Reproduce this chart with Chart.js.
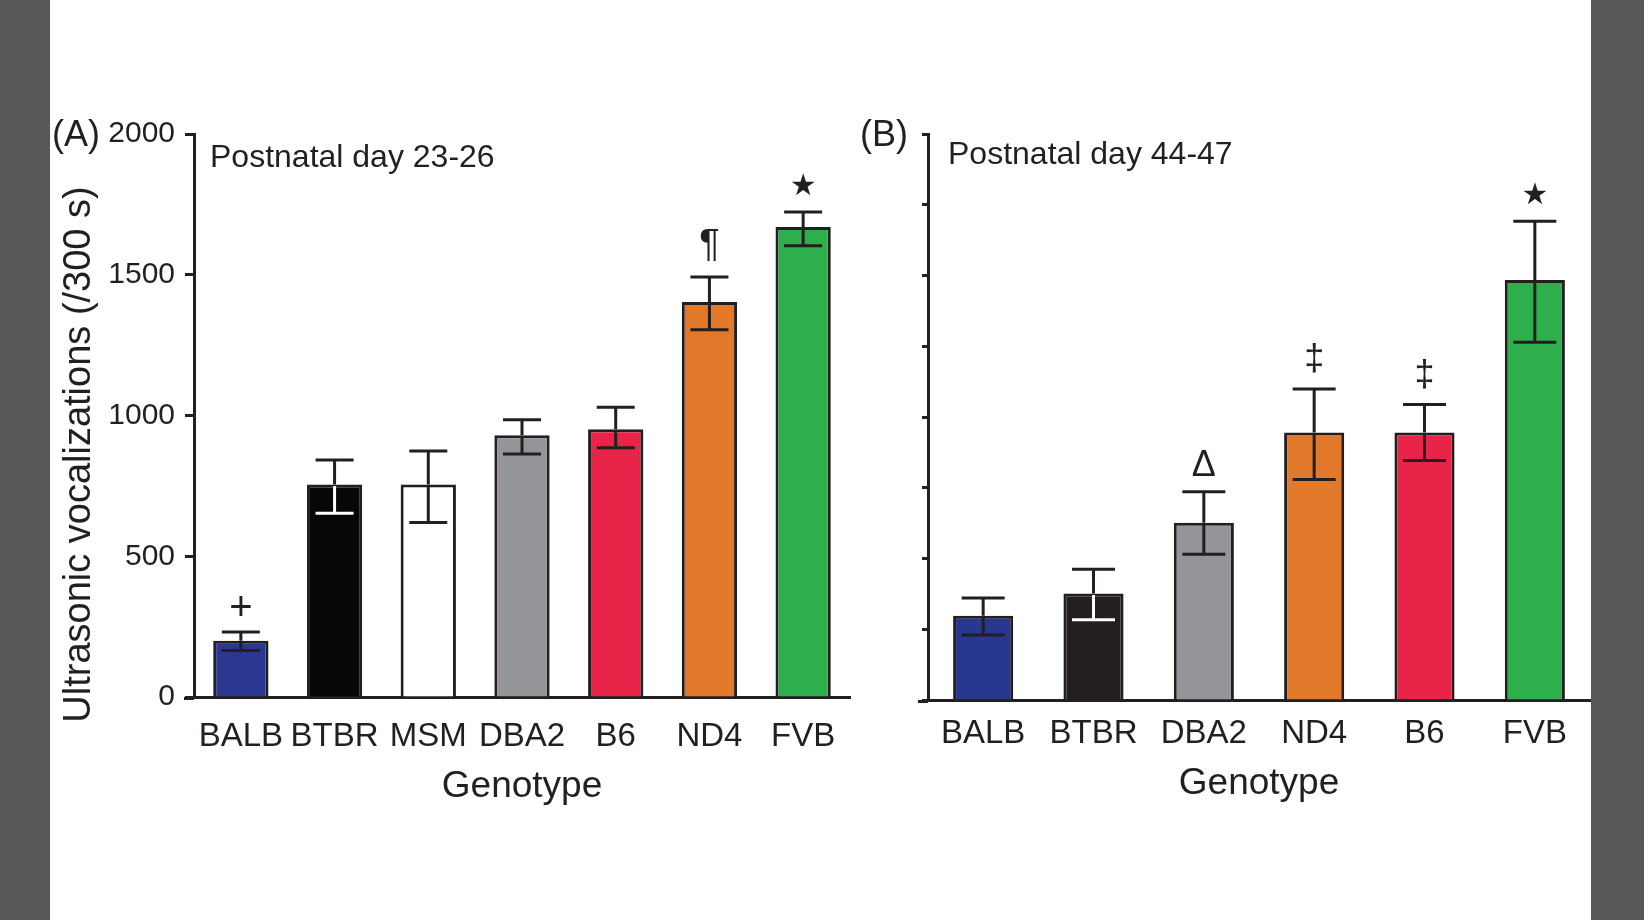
<!DOCTYPE html>
<html><head><meta charset="utf-8">
<script src="https://cdn.jsdelivr.net/npm/chart.js@4"></script>
<style>
html,body{margin:0;padding:0;background:#fff;width:1644px;height:920px;overflow:hidden;}
#chartA{position:absolute;left:0;top:0;}
#chartB{position:absolute;left:840px;top:0;}
.side{position:absolute;top:0;height:920px;background:#585858;z-index:5;}
</style></head><body>
<canvas id="chartA" width="880" height="920"></canvas>
<canvas id="chartB" width="804" height="920"></canvas>
<div class="side" style="left:0;width:50px"></div>
<div class="side" style="left:1591px;width:53px"></div>
<script>
// ---- Panel A data: Postnatal day 23-26 ----
const genotypesA = ['BALB', 'BTBR', 'MSM', 'DBA2', 'B6', 'ND4', 'FVB'];
const meansA     = [200, 755, 755, 930, 951, 1403, 1670];
const errHighA   = [231, 842, 874, 985, 1029, 1492, 1723];
const errLowA    = [165, 653, 620, 863, 885, 1305, 1603];
const marksA     = ['+', '', '', '', '', '¶', '★'];
const yTicksA    = [0, 500, 1000, 1500, 2000];

// ---- Panel B data: Postnatal day 44-47 ----
const genotypesB = ['BALB', 'BTBR', 'DBA2', 'ND4', 'B6', 'FVB'];
const meansB     = [298, 376, 626, 945, 945, 1484];
const errHighB   = [360, 462, 736, 1099, 1044, 1692];
const errLowB    = [230, 284, 515, 779, 846, 1264];
const marksB     = ['', '', 'Δ', '‡', '‡', '★'];
const yTicksB    = [0, 250, 500, 750, 1000, 1250, 1500, 1750, 2000];

const yTitleText = 'Ultrasonic vocalizations (/300 s)';

// ---- styles ----
const INK = '#231f20';
const FONT = "'Liberation Sans', Arial, Helvetica, sans-serif";
const colorsA = ['#2a3891', '#060709', '#ffffff', '#939598', '#e82448', '#e27829', '#2db04b'];
const innerA  = [INK, '#ffffff', INK, INK, INK, INK, INK];
const colorsB = ['#283891', '#231f20', '#939598', '#e27829', '#e82448', '#2db04b'];
const innerB  = [INK, '#ffffff', INK, INK, INK, INK];
const markFont = {'+': "40px " + FONT, '¶': "38px " + FONT, '★': "30px 'DejaVu Sans', sans-serif",
                  'Δ': "36px " + FONT, '‡': "36px " + FONT};

function errorPlugin(high, low, inner, marks, capW) {
  return {
    id: 'errbars',
    afterDatasetsDraw(chart) {
      const ctx = chart.ctx;
      const ys = chart.scales.y;
      const meta = chart.getDatasetMeta(0);
      ctx.save();
      ctx.lineWidth = 3;
      ctx.lineCap = 'butt';
      meta.data.forEach((bar, i) => {
        const x = bar.x;
        const yTop = ys.getPixelForValue(high[i]);
        const yBot = ys.getPixelForValue(low[i]);
        const yBar = bar.y;
        ctx.strokeStyle = INK;
        ctx.beginPath();
        ctx.moveTo(x, yTop); ctx.lineTo(x, yBar);
        ctx.moveTo(x - capW / 2, yTop); ctx.lineTo(x + capW / 2, yTop);
        ctx.stroke();
        ctx.strokeStyle = inner[i];
        ctx.beginPath();
        ctx.moveTo(x, yBar + 1.5); ctx.lineTo(x, yBot);
        ctx.moveTo(x - capW / 2, yBot); ctx.lineTo(x + capW / 2, yBot);
        ctx.stroke();
        const m = marks[i];
        if (m) {
          ctx.font = markFont[m];
          ctx.fillStyle = INK;
          ctx.textAlign = 'center';
          ctx.textBaseline = 'alphabetic';
          const mt = ctx.measureText(m);
          const desc = mt.actualBoundingBoxDescent || 0;
          ctx.fillText(m, x, yTop - 16 - desc);
        }
      });
      ctx.restore();
    }
  };
}

function textPlugin(opts) {
  return {
    id: 'texts',
    afterDraw(chart) {
      const ctx = chart.ctx;
      const ca = chart.chartArea;
      ctx.save();
      ctx.fillStyle = INK;
      ctx.textBaseline = 'alphabetic';
      ctx.textAlign = 'left';
      ctx.font = '36px ' + FONT;
      ctx.fillText(opts.panel, opts.panelX, ca.top + 12);
      ctx.font = '32px ' + FONT;
      ctx.fillText(opts.title, ca.left + opts.titleDx, ca.top + opts.titleDy);
      if (opts.yTitle) {
        ctx.save();
        ctx.translate(80, (ca.top + ca.bottom) / 2 + 39);
        ctx.rotate(-Math.PI / 2);
        ctx.textAlign = 'center';
        ctx.textBaseline = 'middle';
        ctx.font = '38px ' + FONT;
        ctx.fillText(opts.yTitle, 0, 0);
        ctx.restore();
      }
      ctx.strokeStyle = INK;
      ctx.lineWidth = 3;
      ctx.beginPath();
      ctx.moveTo(ca.left - 10, ca.bottom + 1.5);
      ctx.lineTo(ca.left, ca.bottom + 1.5);
      ctx.stroke();
      ctx.restore();
    }
  };
}

function makeChart(id, labels, means, colors, high, low, inner, marks, opts) {
  return new Chart(document.getElementById(id), {
    type: 'bar',
    data: {
      labels: labels,
      datasets: [{
        data: means,
        backgroundColor: colors,
        borderColor: INK,
        borderWidth: 3,
        borderSkipped: 'start',
        barPercentage: opts.barPct,
        categoryPercentage: 1
      }]
    },
    options: {
      responsive: false,
      animation: false,
      devicePixelRatio: 1,
      layout: { padding: { top: 134, right: opts.padRight, bottom: opts.padBottom, left: 0 } },
      plugins: { legend: { display: false }, tooltip: { enabled: false } },
      scales: {
        x: {
          type: 'category',
          offset: true,
          grid: { display: false, drawTicks: false },
          border: { display: true, color: INK, width: 3 },
          ticks: { color: INK, font: { family: FONT, size: 33 }, padding: opts.xTickPad, maxRotation: 0, autoSkip: false },
          title: { display: true, text: 'Genotype', color: INK, font: { family: FONT, size: 37 }, padding: { top: 0, bottom: 0 } },
          afterFit(s) { s.height = opts.xHeight; }
        },
        y: {
          min: 0, max: 2000,
          afterBuildTicks(s) { s.ticks = opts.yTicks.map(v => ({ value: v })); },
          grid: { display: true, drawOnChartArea: false, drawTicks: true, tickLength: opts.tickLen, tickColor: INK, tickWidth: 3 },
          border: { display: true, color: INK, width: 3 },
          ticks: { display: opts.showYLabels, color: INK, font: { family: FONT, size: 30 }, padding: 10,
                   callback: (v) => String(v) },
          title: { display: false },
          afterFit(s) { s.width = opts.yWidth; }
        }
      }
    },
    plugins: [errorPlugin(high, low, inner, marks, opts.capW), textPlugin(opts)]
  });
}

makeChart('chartA', genotypesA, meansA, colorsA, errHighA, errLowA, innerA, marksA, {
  barPct: 0.59, padRight: 30, padBottom: 111, xHeight: 112, xTickPad: 20,
  yTicks: yTicksA, tickLen: 9, showYLabels: true, yTitle: yTitleText, yWidth: 194,
  capW: 38, panel: '(A)', title: 'Postnatal day 23-26', panelX: 52, titleDx: 16, titleDy: 33
});

makeChart('chartB', genotypesB, meansB, colorsB, errHighB, errLowB, innerB, marksB, {
  barPct: 0.545, padRight: 54, padBottom: 114, xHeight: 106, xTickPad: 14,
  yTicks: yTicksB, tickLen: 6, showYLabels: false, yTitle: null, yWidth: 88,
  capW: 43, panel: '(B)', title: 'Postnatal day 44-47', panelX: 20, titleDx: 20, titleDy: 30
});
</script>
</body></html>
